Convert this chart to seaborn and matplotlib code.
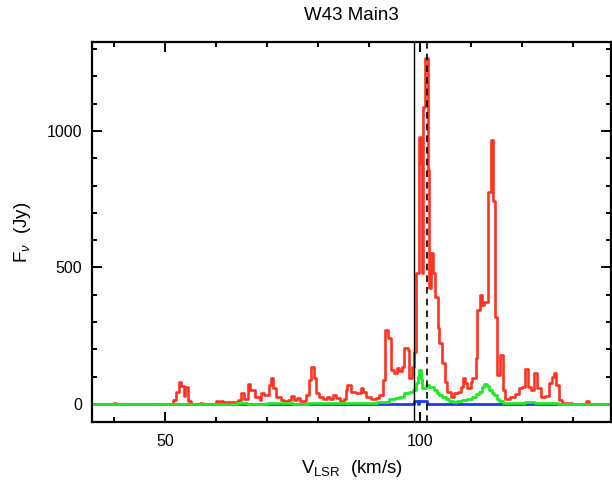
import numpy as np
import pandas as pd
import matplotlib
matplotlib.use("Agg")
import matplotlib.pyplot as plt
import seaborn as sns
from matplotlib.ticker import MultipleLocator

# ---- data (channel left edges in km/s, flux density in Jy) ----
red_v = [35.6, 39.9, 40.3, 51.5, 52.0, 52.7, 53.1, 53.6, 53.8, 54.5, 55.0, 56.8, 57.2,
         59.9, 60.3, 60.8, 61.2, 61.8, 62.5, 63.5, 64.2, 64.9, 65.5, 66.2, 66.5, 67.5,
         68.5, 68.8, 69.4, 70.3, 70.7, 71.1, 71.7, 72.7, 73.3, 74.0, 74.7, 75.3, 75.8,
         76.3, 76.9, 77.6, 78.2, 78.5, 79.2, 79.5, 80.2, 80.9, 81.6, 82.2, 82.8, 83.5,
         84.2, 85.0, 85.4, 85.7, 86.4, 87.4, 88.4, 88.7, 89.3, 90.3, 91.2, 91.9, 92.6,
         93.1, 93.6, 94.2, 94.9, 95.5, 95.9, 96.3, 96.8, 97.5, 97.8, 98.3, 98.7, 99.1,
         99.8, 100.1, 100.4, 100.6, 100.9, 101.5, 101.7, 102.0, 102.4, 102.8, 103.4,
         103.7, 104.3, 104.9, 105.3, 106.0, 106.6, 107.3, 107.9, 108.4, 108.8, 109.2,
         109.9, 110.2, 110.9, 111.2, 111.6, 112.0, 112.5, 113.3, 113.8, 114.3, 114.6,
         115.1, 115.6, 116.2, 116.6, 117.5, 118.5, 119.3, 120.0, 120.6, 121.2, 121.6,
         122.2, 122.9, 123.6, 124.4, 125.2, 125.9, 126.2, 126.6, 127.2, 127.8, 129.0,
         129.3, 129.8, 132.4, 133.0, 137.4]
red_f = [0, 5, 0, 15, 45, 82, 66, 29, 63, 10, 0, 5, 0,
         12, 8, 10, 6, 8, 6, 9, 15, 39, 20, 72, 51, 27,
         15, 39, 33, 70, 94, 57, 27, 15, 10, 15, 29, 15, 22,
         12, 10, 33, 88, 134, 94, 39, 27, 20, 25, 20, 33, 22,
         12, 20, 50, 70, 45, 39, 57, 45, 27, 20, 22, 33, 88,
         271, 240, 125, 112, 130, 120, 135, 204, 198, 94, 137, 190, 479,
         979, 881, 479, 1089, 1266, 857, 424, 552, 479, 393, 277,
         222, 149, 82, 45, 27, 39, 45, 63, 94, 76, 57,
         80, 94, 167, 344, 399, 363, 375, 778, 967, 745, 320,
         106, 179, 51, 17, 27, 35, 57, 63, 127, 63, 50,
         112, 57, 27, 30, 76, 100, 112, 70, 15, 5, 0,
         5, 0, 12, 0, 0]

green_v = [35.6, 62.0, 64.0, 66.0, 70.0, 75.0, 78.0, 80.0, 85.0, 88.0, 90.0, 91.5, 92.6,
           93.9, 95.0, 95.9, 96.8, 97.8, 98.5, 99.1, 99.5, 99.8, 100.1, 100.4, 101.1,
           101.7, 102.7, 103.2, 103.7, 104.3, 105.0, 105.7, 106.3, 107.2, 108.2, 109.2,
           110.2, 111.0, 111.5, 112.0, 112.5, 113.0, 113.5, 114.0, 114.4, 115.0, 115.4,
           116.2, 116.7, 119.5, 120.6, 121.5, 122.5, 124.0, 126.0, 127.0, 128.0, 137.4]
green_f = [0, 0, 2, 1, 2, 1, 3, 2, 3, 4, 5, 8, 9,
           20, 22, 27, 41, 45, 51, 76, 100, 125, 90, 57, 70,
           63, 51, 42, 33, 24, 17, 12, 9, 10, 15, 20,
           27, 35, 45, 62, 73, 65, 51, 42, 33, 20, 12,
           5, 2, 5, 9, 6, 4, 2, 4, 1, 0, 0]

blue_v = [35.6, 64.0, 72.0, 84.0, 88.0, 98.7, 99.5, 99.8, 101.3, 116.0, 126.0, 137.4]
blue_f = [0, -1, 0, -1, 0, 12, 0, 10, 0, -1, 0, 0]

v_sys = 98.7     # solid vertical line
v_dash = 101.3   # dashed vertical line

title = "W43 Main3"
xlabel = r"V$_{\rm LSR}$  (km/s)"
ylabel = r"F$_\nu$  (Jy)"

# ---- style ----
sns.set_style("ticks")
plt.rcParams["font.family"] = ["Liberation Sans", "DejaVu Sans"]
plt.rcParams["mathtext.fontset"] = "custom"
plt.rcParams["mathtext.rm"] = "Liberation Sans"
plt.rcParams["mathtext.it"] = "Liberation Sans:italic"
plt.rcParams["text.color"] = "black"
plt.rcParams["axes.labelcolor"] = "black"

fig = plt.figure(figsize=(6.12, 4.84), dpi=100)
ax = fig.add_axes([92 / 612, 1 - 422 / 484, 1 - 92 / 612 - 0.0015, (422 - 42) / 484])

df_r = pd.DataFrame({"v": red_v, "f": red_f})
df_b = pd.DataFrame({"v": blue_v, "f": blue_f})
df_g = pd.DataFrame({"v": green_v, "f": green_f})

sns.lineplot(data=df_r, x="v", y="f", ax=ax, color="#ff3322", lw=1.9,
             drawstyle="steps-post", estimator=None, sort=False)
sns.lineplot(data=df_b, x="v", y="f", ax=ax, color="#1a3ce8", lw=2.0,
             drawstyle="steps-post", estimator=None, sort=False)
sns.lineplot(data=df_g, x="v", y="f", ax=ax, color="#22e82a", lw=2.0,
             drawstyle="steps-post", estimator=None, sort=False)

ax.axvline(v_sys, color="black", lw=1.0)
ax.axvline(v_dash, color="black", lw=1.2, ls=(0, (4, 3)))

ax.set_xlim(35.6, 137.4)
ax.set_ylim(-66, 1326)

ax.xaxis.set_major_locator(MultipleLocator(50))
ax.xaxis.set_minor_locator(MultipleLocator(10))
ax.yaxis.set_major_locator(MultipleLocator(500))
ax.yaxis.set_minor_locator(MultipleLocator(100))

ax.tick_params(which="both", direction="in", top=True, right=True,
               width=1.4, colors="black", labelcolor="black", labelsize=11.5)
ax.tick_params(which="major", length=7.5, pad=7)
ax.tick_params(which="minor", length=3.8)
ax.tick_params(axis="x", which="major", pad=9)

for s in ax.spines.values():
    s.set_linewidth(1.6)
    s.set_color("black")

ax.set_title(title, fontsize=13.5, pad=16, color="black")
ax.set_xlabel(xlabel, fontsize=13.5, labelpad=6, color="black")
ax.set_ylabel(ylabel, fontsize=13.5, labelpad=10, color="black")

fig.savefig("out.png", dpi=100)
